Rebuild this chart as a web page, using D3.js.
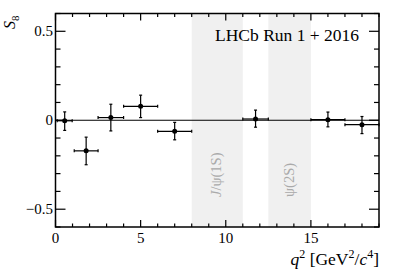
<!DOCTYPE html>
<html><head><meta charset="utf-8">
<script src="https://cdn.jsdelivr.net/npm/d3@7"></script>
<style>body{margin:0;background:#fff}svg{display:block}</style>
</head><body>
<script>
const binLo = [0.1, 1.1, 2.5, 4.0, 6.0, 11.0, 15.0, 17.0];
const binHi = [0.98, 2.5, 4.0, 6.0, 8.0, 12.5, 17.0, 19.0];
const s8 = [-0.003, -0.172, 0.015, 0.078, -0.062, 0.007, 0.003, -0.025];
const errUp = [0.05, 0.077, 0.075, 0.063, 0.05, 0.05, 0.043, 0.046];
const errDn = [0.054, 0.078, 0.075, 0.063, 0.048, 0.046, 0.04, 0.05];
const bandLo = [8.0, 12.5];
const bandHi = [11.0, 15.0];
const bandLabels = ["J/ψ(1S)", "ψ(2S)"];
const xMajor = [0, 5, 10, 15];
const yMajor = [-0.5, 0, 0.5];
const yLabels = ["\u22120.5", "0", "0.5"];

const W = 399, H = 271;
const L = 55.5, R = 379, T = 13.5, B = 227;
const font = "'Liberation Serif','Times New Roman',serif";

const svg = d3.select("body").append("svg").attr("width", W).attr("height", H);
const x = d3.scaleLinear().domain([0, 19]).range([L, R]);
const y = d3.scaleLinear().domain([-0.6, 0.6]).range([B, T]);

// bands
svg.selectAll("rect.band").data(bandLo).enter().append("rect")
  .attr("x", (d) => x(d)).attr("y", T)
  .attr("width", (d, i) => x(bandHi[i]) - x(d)).attr("height", B - T)
  .attr("fill", "#f0f0f0");

// band labels
const bl = svg.selectAll("text.bl").data(bandLabels).enter().append("text")
  .attr("transform", (d, i) => `translate(${(x(bandLo[i]) + x(bandHi[i])) / 2 + 4},197) rotate(-90)`)
  .attr("font-family", font).attr("font-size", 14.5).attr("fill", "#aaaaaa");
bl.each(function (d) {
  const t = d3.select(this);
  if (d.startsWith("J")) {
    t.append("tspan").attr("font-style", "italic").text("J");
    t.append("tspan").text(d.slice(1));
  } else t.text(d);
});

// zero line
svg.append("line").attr("x1", L).attr("x2", R).attr("y1", y(0)).attr("y2", y(0))
  .attr("stroke", "#000").attr("stroke-width", 1.2);

// axes ticks
const g = svg.append("g").attr("stroke", "#000").attr("stroke-width", 1.2);
const xMinor = d3.range(0, 20, 1);
xMinor.forEach((v) => {
  const major = xMajor.includes(v);
  const len = major ? 7 : 3.5;
  g.append("line").attr("x1", x(v)).attr("x2", x(v)).attr("y1", B).attr("y2", B - len);
  g.append("line").attr("x1", x(v)).attr("x2", x(v)).attr("y1", T).attr("y2", T + len);
});
const yMinor = d3.range(-6, 7, 1).map((k) => k / 10);
yMinor.forEach((v) => {
  const major = yMajor.some((m) => Math.abs(m - v) < 1e-9);
  const len = major ? 10 : 5;
  g.append("line").attr("x1", L).attr("x2", L + len).attr("y1", y(v)).attr("y2", y(v));
  g.append("line").attr("x1", R).attr("x2", R - len).attr("y1", y(v)).attr("y2", y(v));
});

// frame
svg.append("rect").attr("x", L).attr("y", T).attr("width", R - L).attr("height", B - T)
  .attr("fill", "none").attr("stroke", "#000").attr("stroke-width", 1.5);

// tick labels
svg.selectAll("text.xt").data(xMajor).enter().append("text")
  .attr("x", (d) => x(d)).attr("y", 243).attr("text-anchor", "middle")
  .attr("font-family", font).attr("font-size", 15).text((d) => d);
svg.selectAll("text.yt").data(yMajor).enter().append("text")
  .attr("x", 53).attr("y", (d) => y(d) + 5).attr("text-anchor", "end")
  .attr("font-family", font).attr("font-size", 15).text((d, i) => yLabels[i]);

// axis titles
const xt = svg.append("text").attr("x", R).attr("y", 265).attr("text-anchor", "end")
  .attr("font-family", font).attr("font-size", 17.5);
xt.append("tspan").attr("font-style", "italic").text("q");
xt.append("tspan").attr("font-size", 12).attr("dy", -7).text("2");
xt.append("tspan").attr("dy", 7).text(" [GeV");
xt.append("tspan").attr("font-size", 12).attr("dy", -7).text("2");
xt.append("tspan").attr("dy", 7).text("/");
xt.append("tspan").attr("font-style", "italic").text("c");
xt.append("tspan").attr("font-size", 12).attr("dy", -7).text("4");
xt.append("tspan").attr("dy", 7).text("]");

const yt = svg.append("text").attr("transform", "translate(15,29) rotate(-90)")
  .attr("text-anchor", "start").attr("font-family", font).attr("font-size", 16);
yt.append("tspan").attr("font-style", "italic").text("S");
yt.append("tspan").attr("font-size", 11).attr("dy", 4).text("8");

// LHCb label
svg.append("text").attr("x", 215).attr("y", 41).attr("font-family", font)
  .attr("font-size", 17.5).text("LHCb Run 1 + 2016");

// data
const pts = s8.map((v, i) => ({ lo: binLo[i], hi: binHi[i], v, up: errUp[i], dn: errDn[i] }));
const pg = svg.append("g").attr("stroke", "#000").attr("stroke-width", 1.2);
pts.forEach((p) => {
  const cx = x((p.lo + p.hi) / 2), cy = y(p.v);
  pg.append("line").attr("x1", x(p.lo)).attr("x2", x(p.hi)).attr("y1", cy).attr("y2", cy);
  pg.append("line").attr("x1", cx).attr("x2", cx).attr("y1", y(p.v + p.up)).attr("y2", y(p.v - p.dn));
  [x(p.lo), x(p.hi)].forEach((xx) => pg.append("line").attr("x1", xx).attr("x2", xx).attr("y1", cy - 1.5).attr("y2", cy + 1.5));
  [y(p.v + p.up), y(p.v - p.dn)].forEach((yy) => pg.append("line").attr("x1", cx - 1.5).attr("x2", cx + 1.5).attr("y1", yy).attr("y2", yy));
  svg.append("circle").attr("cx", cx).attr("cy", cy).attr("r", 2.5).attr("fill", "#000");
});
</script>
</body></html>
